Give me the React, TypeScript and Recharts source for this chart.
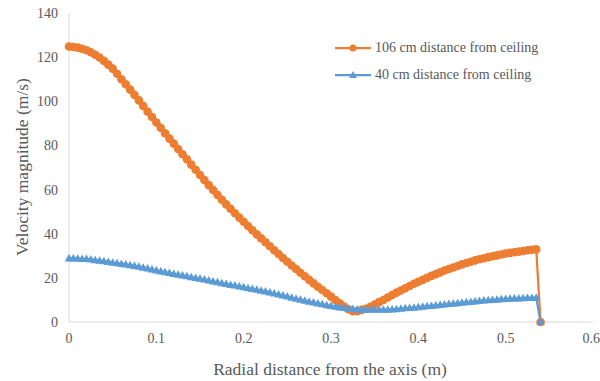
import React from 'react';
import { LineChart, Line, XAxis, YAxis, Legend, Label } from 'recharts';

// radial positions (m), 0 .. 0.535 every 0.005, then the wall at 0.54
const radialPositions = [
  0, 0.005, 0.01, 0.015, 0.02, 0.025, 0.03, 0.035, 0.04, 0.045,
  0.05, 0.055, 0.06, 0.065, 0.07, 0.075, 0.08, 0.085, 0.09, 0.095,
  0.1, 0.105, 0.11, 0.115, 0.12, 0.125, 0.13, 0.135, 0.14, 0.145,
  0.15, 0.155, 0.16, 0.165, 0.17, 0.175, 0.18, 0.185, 0.19, 0.195,
  0.2, 0.205, 0.21, 0.215, 0.22, 0.225, 0.23, 0.235, 0.24, 0.245,
  0.25, 0.255, 0.26, 0.265, 0.27, 0.275, 0.28, 0.285, 0.29, 0.295,
  0.3, 0.305, 0.31, 0.315, 0.32, 0.325, 0.33, 0.335, 0.34, 0.345,
  0.35, 0.355, 0.36, 0.365, 0.37, 0.375, 0.38, 0.385, 0.39, 0.395,
  0.4, 0.405, 0.41, 0.415, 0.42, 0.425, 0.43, 0.435, 0.44, 0.445,
  0.45, 0.455, 0.46, 0.465, 0.47, 0.475, 0.48, 0.485, 0.49, 0.495,
  0.5, 0.505, 0.51, 0.515, 0.52, 0.525, 0.53, 0.535, 0.54,
];

// 106 cm from ceiling
const velocity106 = [
  124.8, 124.6, 124.3, 123.8, 123.1, 122.2, 121.1, 119.8, 118.3, 116.6,
  114.8, 112.5, 110.0, 107.7, 105.3, 102.9, 100.4, 97.9, 95.3, 92.9,
  90.4, 88.0, 85.5, 83.1, 80.8, 78.4, 76.0, 73.7, 71.3, 69.0,
  66.6, 64.3, 62.0, 59.8, 57.6, 55.4, 53.3, 51.3, 49.3, 47.3,
  45.4, 43.5, 41.6, 39.7, 37.9, 36.1, 34.3, 32.5, 30.8, 29.0,
  27.3, 25.6, 24.0, 22.3, 20.7, 19.1, 17.5, 16.0, 14.5, 13.0,
  11.5, 10.0, 8.5, 7.0, 5.8, 4.9, 4.9, 5.5, 6.0, 6.9,
  7.9, 9.0, 10.0, 11.1, 12.2, 13.3, 14.3, 15.3, 16.3, 17.3,
  18.2, 19.1, 20.0, 20.9, 21.7, 22.5, 23.3, 24.0, 24.7, 25.4,
  26.1, 26.7, 27.3, 27.9, 28.4, 28.9, 29.4, 29.8, 30.2, 30.6,
  31.0, 31.3, 31.6, 31.9, 32.2, 32.5, 32.7, 32.9, 0,
];

// 40 cm from ceiling
const velocity40 = [
  28.8, 28.8, 28.7, 28.6, 28.5, 28.3, 28.0, 27.8, 27.5, 27.2,
  26.9, 26.6, 26.3, 26.0, 25.7, 25.4, 25.0, 24.6, 24.2, 23.8,
  23.3, 22.9, 22.5, 22.2, 21.8, 21.4, 21.1, 20.7, 20.3, 19.9,
  19.6, 19.2, 18.8, 18.4, 18.0, 17.6, 17.2, 16.8, 16.5, 16.1,
  15.7, 15.3, 15.0, 14.6, 14.2, 13.8, 13.4, 12.9, 12.5, 12.0,
  11.5, 11.0, 10.5, 10.1, 9.6, 9.2, 8.8, 8.4, 8.0, 7.6,
  7.2, 6.9, 6.6, 6.3, 6.0, 5.9, 5.7, 5.6, 5.5, 5.5,
  5.5, 5.5, 5.5, 5.6, 5.7, 5.8, 6.0, 6.2, 6.3, 6.5,
  6.7, 6.9, 7.1, 7.3, 7.5, 7.7, 7.9, 8.1, 8.3, 8.5,
  8.7, 8.9, 9.1, 9.3, 9.5, 9.7, 9.8, 10.0, 10.1, 10.3,
  10.4, 10.5, 10.6, 10.7, 10.8, 10.9, 10.9, 11.0, 0,
];

const xTicks = [0, 0.1, 0.2, 0.3, 0.4, 0.5, 0.6];
const yTicks = [0, 20, 40, 60, 80, 100, 120, 140];

const ORANGE = '#ED7D31';
const BLUE = '#5B9BD5';
const TEXT = '#595959';
const FONT = '"Liberation Serif", "Times New Roman", serif';

const data = radialPositions.map((r, i) => ({
  r,
  v106: velocity106[i],
  v40: velocity40[i],
}));

const Triangle = (props: any) => {
  const { cx, cy } = props;
  if (cx == null || cy == null) return null;
  return (
    <polygon
      points={`${cx},${cy - 4.5} ${cx - 4.3},${cy + 3} ${cx + 4.3},${cy + 3}`}
      fill={BLUE}
    />
  );
};

const LegendBox = () => (
  <div style={{ fontFamily: FONT, fontSize: 14, color: TEXT }}>
    {[
      { name: '106 cm distance from ceiling', color: ORANGE, marker: 'circle' },
      { name: '40 cm distance from ceiling', color: BLUE, marker: 'triangle' },
    ].map((item) => (
      <div key={item.name} style={{ display: 'flex', alignItems: 'center', height: 27 }}>
        <svg width={38} height={12} style={{ marginRight: 3 }}>
          <line x1={1} y1={6} x2={37} y2={6} stroke={item.color} strokeWidth={2.25} />
          {item.marker === 'circle' ? (
            <circle cx={19} cy={6} r={3.5} fill={item.color} />
          ) : (
            <polygon points="19,2 15,9 23,9" fill={item.color} />
          )}
        </svg>
        <span>{item.name}</span>
      </div>
    ))}
  </div>
);

export default function App() {
  return (
    <div>
      <style>{`
        body{margin:0;background:#fff;font-family:${FONT}}
        .recharts-wrapper, .recharts-wrapper text, .recharts-legend-wrapper {font-family:${FONT} !important}
      `}</style>
      <LineChart
        width={600}
        height={381}
        data={data}
        margin={{ top: 13, right: 7, bottom: 0, left: 20 }}
        style={{ fontFamily: FONT }}
      >
        <XAxis
          dataKey="r"
          type="number"
          domain={[0, 0.6]}
          ticks={xTicks}
          tickLine={false}
          tickMargin={5}
          axisLine={{ stroke: '#D9D9D9' }}
          tick={{ fill: TEXT, fontSize: 14 }}
          height={59}
        >
          <Label
            content={() => (
              <text
                x={330}
                y={375}
                textAnchor="middle"
                fill={TEXT}
                fontSize={17.5}
                fontFamily={FONT}
              >
                Radial distance from the axis (m)
              </text>
            )}
          />
        </XAxis>
        <YAxis
          type="number"
          domain={[0, 140]}
          ticks={yTicks}
          tickLine={false}
          tickMargin={5}
          axisLine={{ stroke: '#D9D9D9' }}
          tick={{ fill: TEXT, fontSize: 14 }}
          width={49}
        >
          <Label
            content={() => (
              <text
                x={28}
                y={167}
                transform="rotate(-90 28 167)"
                textAnchor="middle"
                fill={TEXT}
                fontSize={17.5}
                fontFamily={FONT}
              >
                Velocity magnitude (m/s)
              </text>
            )}
          />
        </YAxis>
        <Legend
          layout="horizontal"
          align="center"
          verticalAlign="middle"
          content={<LegendBox />}
          wrapperStyle={{ position: 'absolute', left: 334, top: 34, width: 260 }}
        />
        <Line
          dataKey="v106"
          type="linear"
          stroke={ORANGE}
          strokeWidth={2.25}
          dot={{ r: 4.3, fill: ORANGE, stroke: 'none' }}
          activeDot={false}
          isAnimationActive={false}
        />
        <Line
          dataKey="v40"
          type="linear"
          stroke={BLUE}
          strokeWidth={2.25}
          dot={<Triangle />}
          activeDot={false}
          isAnimationActive={false}
        />
      </LineChart>
    </div>
  );
}
